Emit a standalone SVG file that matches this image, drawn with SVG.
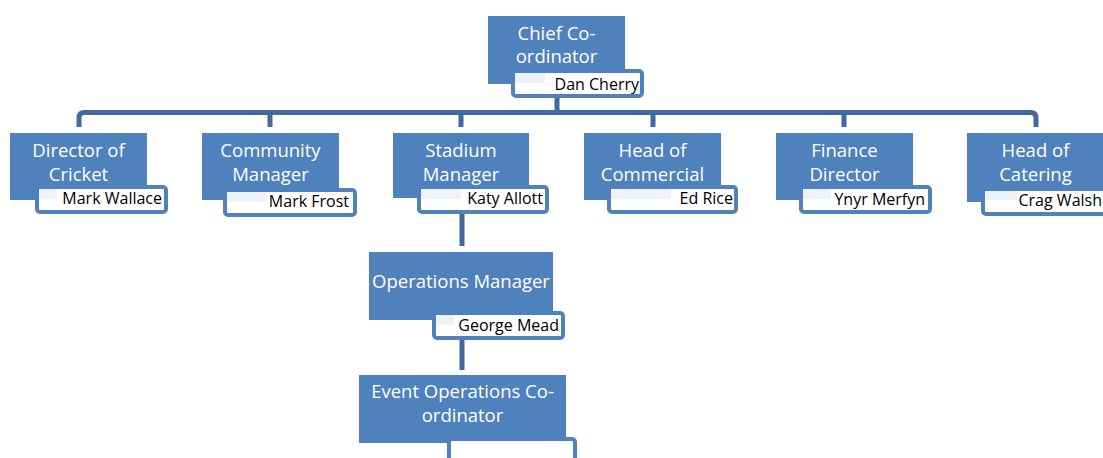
<svg xmlns="http://www.w3.org/2000/svg" width="1103" height="458" viewBox="0 0 1103 458">
<style>
.box{fill:#4f81bd}
.nm{fill:#ffffff;stroke:#4f81bd;stroke-width:4}
.tint{fill:#edf2f9}
.t{font-family:"Open Sans","Liberation Sans",sans-serif;font-size:18.5px;fill:#ffffff;text-anchor:middle}
.n{font-family:"Open Sans","Liberation Sans",sans-serif;font-size:16px;fill:#000000;text-anchor:end}
.c{fill:none;stroke:#41699c;stroke-width:5}
</style>
<rect width="1103" height="458" fill="#ffffff"/>
<g id="connectors">
<path class="c" d="M557,98 V112.5"/>
<path class="c" d="M79,127 V118 Q79,112.5 84.5,112.5 H1030.5 Q1036,112.5 1036,118 V127"/>
<path class="c" d="M270,112.5 V127"/>
<path class="c" d="M461,112.5 V127"/>
<path class="c" d="M653,112.5 V127"/>
<path class="c" d="M844,112.5 V127"/>
<path class="c" d="M462,214 V246"/>
<path class="c" d="M462,340 V370"/>
</g>
<g id="chief">
<rect class="box" x="488" y="16" width="137" height="68"/>
<text class="t" x="556.5" y="40">Chief Co-</text>
<text class="t" x="556.5" y="63">ordinator</text>
<rect class="nm" x="513" y="71" width="129" height="25" rx="3"/>
<rect class="tint" x="515" y="73" width="30" height="10"/>
<text class="n" x="639" y="90">Dan Cherry</text>
</g>
<g id="director-cricket">
<rect class="box" x="10" y="133" width="137" height="67"/>
<text class="t" x="78.5" y="157">Director of</text>
<text class="t" x="78.5" y="181">Cricket</text>
<rect class="nm" x="37" y="187" width="129" height="25" rx="3"/>
<rect class="tint" x="39" y="189" width="18" height="10"/>
<text class="n" x="162" y="204">Mark Wallace</text>
</g>
<g id="community-manager">
<rect class="box" x="202" y="133" width="137" height="67"/>
<text class="t" x="270.5" y="157">Community</text>
<text class="t" x="270.5" y="181">Manager</text>
<rect class="nm" x="225" y="190" width="130" height="25" rx="3"/>
<rect class="tint" x="227" y="192" width="40" height="10"/>
<text class="n" x="349" y="207">Mark Frost</text>
</g>
<g id="stadium-manager">
<rect class="box" x="393" y="133" width="136" height="65"/>
<text class="t" x="461" y="157">Stadium</text>
<text class="t" x="461" y="181">Manager</text>
<rect class="nm" x="419" y="187" width="128" height="25" rx="3"/>
<rect class="tint" x="421" y="189" width="40" height="10"/>
<text class="n" x="543" y="204">Katy Allott</text>
</g>
<g id="head-commercial">
<rect class="box" x="584" y="133" width="137" height="67"/>
<text class="t" x="652.5" y="157">Head of</text>
<text class="t" x="652.5" y="181">Commercial</text>
<rect class="nm" x="609" y="187" width="127" height="25" rx="3"/>
<rect class="tint" x="611" y="189" width="60" height="10"/>
<text class="n" x="733" y="204">Ed Rice</text>
</g>
<g id="finance-director">
<rect class="box" x="776" y="133" width="137" height="67"/>
<text class="t" x="844.5" y="157">Finance</text>
<text class="t" x="844.5" y="181">Director</text>
<rect class="nm" x="801" y="187" width="129" height="25" rx="3"/>
<rect class="tint" x="803" y="189" width="28" height="10"/>
<text class="n" x="925" y="205">Ynyr Merfyn</text>
</g>
<g id="head-catering">
<rect class="box" x="967" y="133" width="137" height="69"/>
<text class="t" x="1035.5" y="157">Head of</text>
<text class="t" x="1035.5" y="181">Catering</text>
<rect class="nm" x="983" y="189" width="129" height="25" rx="3"/>
<rect class="tint" x="985" y="191" width="32" height="9"/>
<text class="n" x="1102" y="206">Crag Walsh</text>
</g>
<g id="operations-manager">
<rect class="box" x="369" y="252" width="184" height="68"/>
<text class="t" x="461" y="288">Operations Manager</text>
<rect class="nm" x="434" y="313" width="129" height="25" rx="3"/>
<rect class="tint" x="436" y="315" width="18" height="10"/>
<text class="n" x="559" y="331">George Mead</text>
</g>
<g id="event-operations">
<rect class="box" x="359" y="375" width="207" height="68"/>
<text class="t" x="462.5" y="398">Event Operations Co-</text>
<text class="t" x="462.5" y="422">ordinator</text>
<rect class="nm" x="449" y="439" width="126" height="25" rx="3"/>
</g>
</svg>
